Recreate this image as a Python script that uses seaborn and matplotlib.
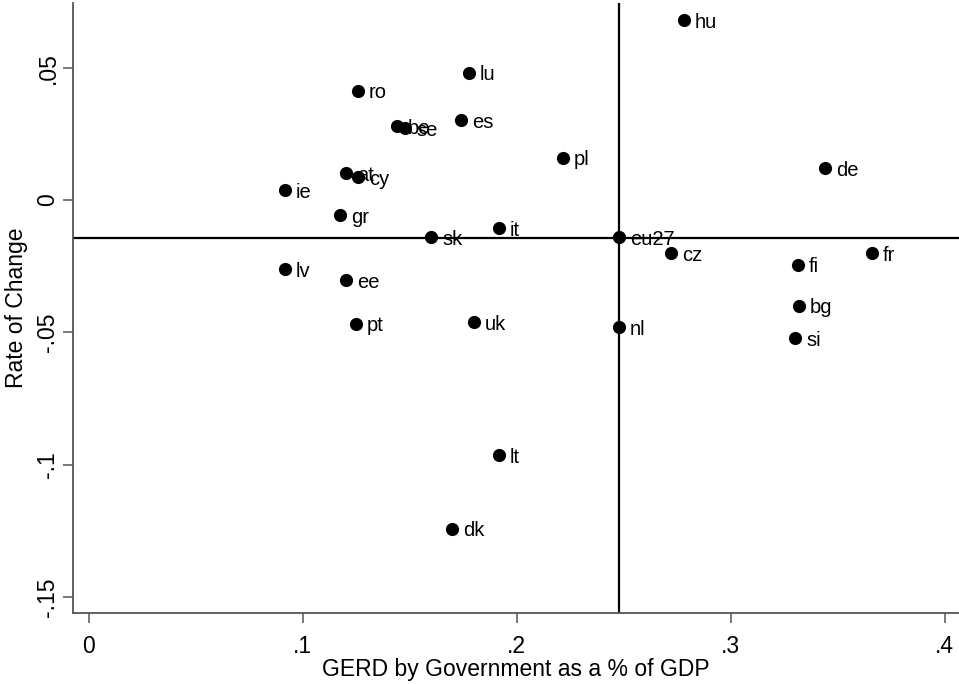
import pandas as pd
import matplotlib
matplotlib.use("Agg")
import matplotlib.pyplot as plt
import seaborn as sns

countries = ["hu", "lu", "ro", "be", "se", "es", "pl", "de", "at", "cy", "ie",
             "gr", "it", "sk", "eu27", "cz", "fr", "fi", "lv", "ee", "bg", "uk",
             "pt", "nl", "si", "lt", "dk"]
gerd_gov = [0.2782, 0.1777, 0.1258, 0.1441, 0.1478, 0.1740, 0.2216, 0.3441,
            0.1202, 0.1258, 0.0917, 0.1174, 0.1917, 0.1600, 0.2478, 0.2721,
            0.3660, 0.3314, 0.0917, 0.1202, 0.3319, 0.1800, 0.1249, 0.2478,
            0.3300, 0.1917, 0.1698]
rate_change = [0.0680, 0.0480, 0.0412, 0.0279, 0.0272, 0.0302, 0.0159, 0.0121,
               0.0102, 0.0087, 0.0038, -0.0057, -0.0106, -0.0140, -0.0140,
               -0.0200, -0.0200, -0.0245, -0.0261, -0.0302, -0.0400, -0.0461,
               -0.0468, -0.0480, -0.0521, -0.0963, -0.1242]

# Линии по значениям eu27
eu_x = 0.2478
eu_y = -0.0142

x_ticks = [0, 0.1, 0.2, 0.3, 0.4]
x_labels = ["0", ".1", ".2", ".3", ".4"]
y_ticks = [0.05, 0, -0.05, -0.1, -0.15]
y_labels = [".05", "0", "-.05", "-.1", "-.15"]

df = pd.DataFrame({"country": countries, "gerd": gerd_gov, "rate": rate_change})

sns.set_style("ticks")
plt.rcParams["font.family"] = ["Liberation Sans", "DejaVu Sans"]

fig = plt.figure(figsize=(9.59, 6.84), dpi=100)
ax = fig.add_axes([0.0757, 0.1038, 0.9243, 0.8918])

ax.axhline(eu_y, color="black", lw=1.6, zorder=1)
ax.axvline(eu_x, color="black", lw=1.6, zorder=1)

sns.scatterplot(data=df, x="gerd", y="rate", ax=ax, color="black",
                s=90, edgecolor="black", linewidth=0, zorder=3)

#Подписи справа от точек
for _, row in df.iterrows():
    ax.annotate(row["country"], (row["gerd"], row["rate"]),
                xytext=(8, -1.5), textcoords="offset points",
                ha="left", va="center", fontsize=14.5, color="black", zorder=4)

ax.set_xlim(-0.0075, 0.4067)
ax.set_ylim(-0.156, 0.0744)
ax.set_xticks(x_ticks)
ax.set_xticklabels(x_labels)
ax.set_yticks(y_ticks)
ax.set_yticklabels(y_labels, rotation=90, va="center")
ax.tick_params(axis="both", labelsize=16.5, length=7.5, width=1.1,
               color="#555555", labelcolor="black")
ax.tick_params(axis="x", pad=8)
ax.tick_params(axis="y", pad=2)

ax.set_xlabel("GERD by Government as a % of GDP", fontsize=16.5, labelpad=0,
              color="black")
ax.set_ylabel("Rate of Change", fontsize=16.5, labelpad=6, color="black")

for side in ["top", "right"]:
    ax.spines[side].set_visible(False)
for side in ["left", "bottom"]:
    ax.spines[side].set_color("#555555")
    ax.spines[side].set_linewidth(1.3)

fig.savefig("out.png", dpi=100)
